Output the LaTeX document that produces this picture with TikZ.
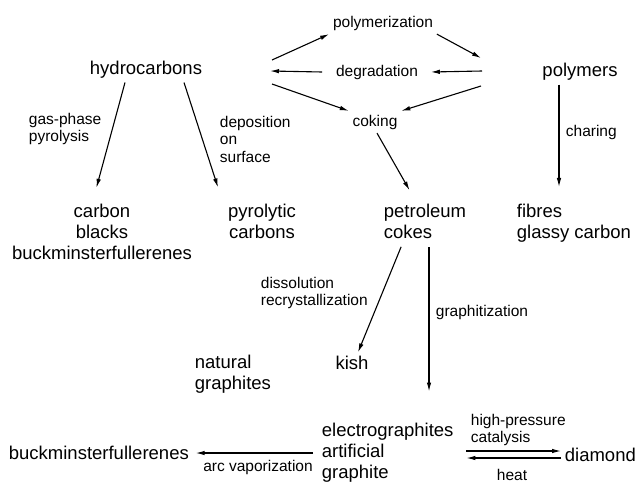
\documentclass[tikz,border=0pt]{standalone}
\usepackage{fontspec}
\setmainfont{Liberation Sans}
\usetikzlibrary{arrows.meta}

\tikzset{
  big/.style={font=\fontsize{18.5}{21}\selectfont},
  small/.style={font=\fontsize{15.5}{17.5}\selectfont},
}

\begin{document}
\begin{tikzpicture}[x=1pt,y=-1pt,>={Latex[length=9pt,width=4.5pt]},line width=1.1pt]
	    \useasboundingbox (0,0) rectangle (639,485);
	    \node(hydro)[big] at (146,70) {hydrocarbons};
	    \node(polymers)[big] at (580,72) {polymers};
	    \node(polymerization)[small] at (383,23) {polymerization};
	    \node(degradation)[small] at (377,72) {degradation};
	    \node(coking)[small] at (375,122) {coking};
	    \node(gasphase)[small,align=left,anchor=west] at (25,129) {gas-phase\\pyrolysis};
	    \node(deposition)[small,align=left,anchor=west] at (216,139) {deposition\\on\\surface};
	    \node(charing)[small,anchor=west] at (562,132) {charing};
	    \node(blacks)[big,align=center] at (102,232) {carbon\\blacks\\buckminsterfullerenes};
	    \node(pyrolytic)[big,align=center] at (262,221) {pyrolytic\\carbons};
	    \node(cokes)[big,align=left,anchor=west] at (380,221) {petroleum\\cokes};
	    \node(fibres)[big,align=left,anchor=west] at (513,223) {fibres\\glassy carbon};
	    \node(dissolution)[small,align=left,anchor=west] at (257,293) {dissolution\\recrystallization};
	    \node(graphitization)[small,anchor=west] at (432,312) {graphitization};
	    \node(natural)[big,align=left,anchor=west] at (191,374) {natural\\graphites};
	    \node(kish)[big] at (352,363) {kish};
	    \node(graphite)[big,align=left,anchor=west] at (318,453) {electrographites\\artificial\\graphite};
	    \node(fullerenes)[big,anchor=west] at (5,453) {buckminsterfullerenes};
	    \node(arcvap)[small] at (258,467) {arc vaporization};
	    \node(pressure)[small,align=left,anchor=west] at (467,430) {high-pressure\\catalysis};
	    \node(heat)[small] at (512,475) {heat};
	    \node(diamond)[big,anchor=west] at (561,455) {diamond};
	    \coordinate(hcTop) at (272,60);
	    \coordinate(hcMid) at (270,71);
	    \coordinate(hcBot) at (272,84);
	    \coordinate(pmTop) at (481,58);
	    \coordinate(pmMid) at (482,71);
	    \coordinate(pmBot) at (481,86);
	    \draw[->] (hcTop) -- (polymerization.south west);
	    \draw[->] (polymerization.south east) -- (pmTop);
	    \draw[->] (pmMid) -- ([xshift=9pt]degradation.east);
	    \draw[->] ([xshift=-10pt]degradation.west) -- (hcMid);
	    \draw[->] (hcBot) -- (coking.north west);
	    \draw[->] (pmBot) -- (coking.north east);
	    \draw[->,shorten >=11pt] ([xshift=2pt]coking.south) -- ([xshift=-10pt]cokes.north);
	    \draw[->,shorten >=13pt] ([xshift=-21pt]hydro.south) -- ([xshift=-9pt]blacks.north);
	    \draw[->,shorten >=13pt] ([xshift=38pt]hydro.south) -- ([xshift=-40pt]pyrolytic.north);
	    \draw[->,shorten >=13pt] ([xshift=-21pt]polymers.south) -- ([xshift=-21pt]polymers.south |- fibres.north);
	    \draw[->,shorten <=5pt] ([xshift=-22pt]cokes.south) -- ([xshift=6pt]kish.north);
	    \draw[->,shorten <=5pt,shorten >=28pt] ([xshift=4pt]cokes.south) -- ([xshift=4pt]cokes.south |- graphite.north);
	    \draw[->,shorten <=5pt,shorten >=3pt] (graphite.west) -- (fullerenes.east);
	    \draw[->,shorten <=9pt] ([yshift=2pt]graphite.east) -- ([yshift=2pt]graphite.east -| diamond.west);
	    \draw[->,shorten >=9pt] ([yshift=-5pt]graphite.east -| diamond.west) -- ([yshift=-5pt]graphite.east);
	  \end{tikzpicture}
\end{document}
